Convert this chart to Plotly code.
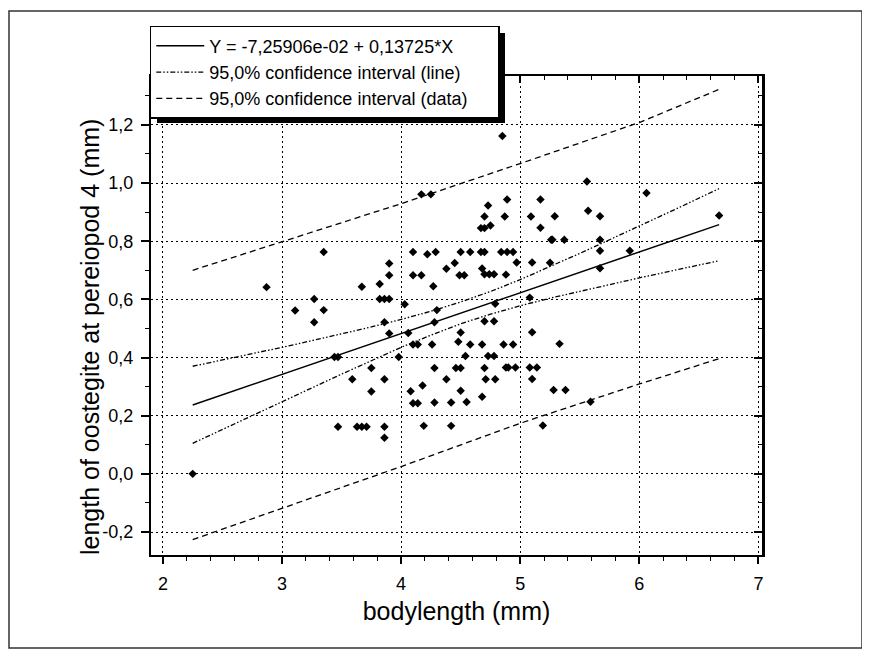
import plotly.graph_objects as go

# ---- data ----
body_length = [2.25, 2.87, 3.11, 3.27, 3.27, 3.35, 3.35, 3.44, 3.47, 3.47,
               3.59, 3.63, 3.67, 3.71, 3.67, 3.75, 3.75, 3.82, 3.82, 3.86,
               3.90, 3.86, 3.86, 3.86, 3.86, 3.90, 3.90, 3.90, 3.98, 4.03,
               4.06, 4.08, 4.10, 4.10, 4.10, 4.14, 4.10, 4.14, 4.17, 4.25,
               4.17, 4.18, 4.19, 4.22, 4.26, 4.27, 4.28, 4.28, 4.28, 4.29,
               4.30, 4.38, 4.38, 4.42, 4.42, 4.45, 4.46, 4.50, 4.48, 4.50,
               4.49, 4.53, 4.50, 4.50, 4.54, 4.55, 4.58, 4.58, 4.67, 4.70,
               4.67, 4.70, 4.68, 4.68, 4.68, 4.70, 4.70, 4.74, 4.78, 4.70,
               4.70, 4.71, 4.73, 4.73, 4.78, 4.75, 4.78, 4.79, 4.79, 4.85,
               4.86, 4.84, 4.87, 4.88, 4.89, 4.88, 4.89, 4.94, 4.90, 4.94,
               4.96, 4.97, 5.08, 5.09, 5.10, 5.08, 5.10, 5.10, 5.14, 5.17,
               5.17, 5.19, 5.25, 5.26, 5.27, 5.29, 5.28, 5.33, 5.37, 5.38,
               5.56, 5.57, 5.59, 5.67, 5.67, 5.67, 5.67, 5.92, 6.06, 6.67]
oostegite = [0.000, 0.642, 0.562, 0.601, 0.521, 0.763, 0.563, 0.402, 0.402, 0.162,
             0.325, 0.162, 0.162, 0.162, 0.643, 0.283, 0.364, 0.653, 0.601, 0.601,
             0.601, 0.521, 0.325, 0.162, 0.124, 0.723, 0.683, 0.483, 0.402, 0.583,
             0.484, 0.284, 0.763, 0.683, 0.445, 0.445, 0.243, 0.243, 0.961, 0.961,
             0.683, 0.304, 0.165, 0.755, 0.445, 0.645, 0.521, 0.364, 0.245, 0.763,
             0.563, 0.705, 0.325, 0.245, 0.165, 0.725, 0.364, 0.364, 0.454, 0.763,
             0.683, 0.683, 0.486, 0.286, 0.405, 0.247, 0.763, 0.445, 0.845, 0.845,
             0.763, 0.763, 0.706, 0.445, 0.265, 0.885, 0.686, 0.686, 0.686, 0.525,
             0.364, 0.325, 0.923, 0.405, 0.405, 0.854, 0.525, 0.585, 0.325, 1.162,
             0.445, 0.763, 0.885, 0.685, 0.943, 0.366, 0.763, 0.763, 0.366, 0.445,
             0.366, 0.727, 0.606, 0.885, 0.727, 0.366, 0.326, 0.487, 0.366, 0.943,
             0.846, 0.166, 0.726, 0.805, 0.805, 0.886, 0.288, 0.447, 0.805, 0.288,
             1.005, 0.905, 0.248, 0.886, 0.805, 0.767, 0.707, 0.767, 0.966, 0.888]

fit_x = [2.25, 6.67]
fit_y = [0.237, 0.857]

ci_line_x = [2.25, 2.5, 2.75, 3.0, 3.25, 3.5, 3.75, 4.0, 4.25, 4.5, 4.75,
             5.0, 5.25, 5.5, 5.75, 6.0, 6.33, 6.67]
ci_line_upper = [0.370, 0.391, 0.413, 0.435, 0.458, 0.481, 0.505, 0.531, 0.559,
                 0.591, 0.627, 0.668, 0.712, 0.758, 0.805, 0.852, 0.915, 0.981]
ci_line_lower = [0.105, 0.153, 0.201, 0.249, 0.296, 0.343, 0.389, 0.435, 0.477,
                 0.516, 0.549, 0.578, 0.604, 0.628, 0.651, 0.674, 0.703, 0.733]

ci_data_x = [2.25, 3.0, 4.0, 5.0, 6.0, 6.67]
ci_data_upper = [0.700, 0.797, 0.929, 1.067, 1.208, 1.322]
ci_data_lower = [-0.226, -0.118, 0.025, 0.174, 0.309, 0.396]

x_tick_vals = [2, 3, 4, 5, 6, 7]
x_tick_text = ["2", "3", "4", "5", "6", "7"]
y_tick_vals = [-0.2, 0.0, 0.2, 0.4, 0.6, 0.8, 1.0, 1.2]
y_tick_text = ["-0,2", "0,0", "0,2", "0,4", "0,6", "0,8", "1,0", "1,2"]

legend_names = ["Y = -7,25906e-02 + 0,13725*X",
                "95,0% confidence interval (line)",
                "95,0% confidence interval (data)"]
x_title = "bodylength (mm)"
y_title = "length of oostegite at pereiopod 4 (mm)"

X_RANGE = [1.9, 7.03]
Y_RANGE = [-0.279, 1.368]
FONT = "Liberation Sans, Arial, sans-serif"
DOTDASH = "5px,2px,1.5px,2px,1.5px,2px"
NBSP = "\u00a0"

fig = go.Figure()

fig.add_trace(go.Scatter(x=fit_x, y=fit_y, mode="lines", name=legend_names[0],
                         line=dict(color="black", width=1.5)))
fig.add_trace(go.Scatter(x=ci_line_x, y=ci_line_upper, mode="lines", name=legend_names[1],
                         legendgroup="cil", line=dict(color="black", width=1.3, dash=DOTDASH)))
fig.add_trace(go.Scatter(x=ci_line_x, y=ci_line_lower, mode="lines", name=legend_names[1],
                         legendgroup="cil", showlegend=False,
                         line=dict(color="black", width=1.3, dash=DOTDASH)))
fig.add_trace(go.Scatter(x=ci_data_x, y=ci_data_upper, mode="lines",
                         name=legend_names[2] + NBSP * 5,
                         legendgroup="cid", line=dict(color="black", width=1.3, dash="6px,4px")))
fig.add_trace(go.Scatter(x=ci_data_x, y=ci_data_lower, mode="lines", name=legend_names[2],
                         legendgroup="cid", showlegend=False,
                         line=dict(color="black", width=1.3, dash="6px,4px")))
fig.add_trace(go.Scatter(x=body_length, y=oostegite, mode="markers", showlegend=False,
                         marker=dict(symbol="diamond", size=6.5, color="black",
                                     line=dict(width=0))))
# carrier for the mirrored top/right axes with inward ticks
fig.add_trace(go.Scatter(x=[None], y=[None], xaxis="x2", yaxis="y2",
                         showlegend=False, hoverinfo="skip"))

grid = dict(showgrid=True, gridcolor="black", gridwidth=1.4, griddash="1.5px,3.5px")

# The page body adds an 8px offset, so the figure is 862x646 and sits at (8,8).
fig.update_layout(
    width=862, height=646,
    margin=dict(l=143, r=108, t=68, b=99, autoexpand=False),
    paper_bgcolor="white", plot_bgcolor="white",
    font=dict(family=FONT, color="black", size=18),
    showlegend=True,
    legend=dict(x=-0.002, y=1.1045, xanchor="left", yanchor="top",
                bgcolor="white", bordercolor="black", borderwidth=1.5,
                font=dict(size=18, family=FONT), itemwidth=48,
                tracegroupgap=0),
    xaxis=dict(range=X_RANGE, tickvals=x_tick_vals, ticktext=x_tick_text,
               showline=True, linecolor="black", linewidth=2,
               ticks="outside", ticklen=7, tickwidth=1.5, tickcolor="black",
               ticklabelstandoff=4,
               minor=dict(dtick=0.2, tick0=2, ticks="outside", ticklen=4,
                          tickwidth=1, tickcolor="black", showgrid=False),
               zeroline=False,
               title=dict(text=x_title, font=dict(size=25), standoff=10),
               **grid),
    yaxis=dict(range=Y_RANGE, tickvals=y_tick_vals, ticktext=y_tick_text,
               showline=True, linecolor="black", linewidth=2,
               ticks="outside", ticklen=8, tickwidth=1.5, tickcolor="black",
               ticklabelstandoff=4,
               minor=dict(dtick=0.1, tick0=0, ticks="outside", ticklen=4,
                          tickwidth=1, tickcolor="black", showgrid=False),
               zeroline=False,
               **grid),
    xaxis2=dict(range=X_RANGE, overlaying="x", side="top", anchor="y2",
                tickvals=x_tick_vals, showticklabels=False,
                showline=True, linecolor="black", linewidth=2,
                ticks="inside", ticklen=7, tickwidth=1.5, tickcolor="black",
                minor=dict(dtick=0.2, tick0=2, ticks="inside", ticklen=4,
                           tickwidth=1, tickcolor="black", showgrid=False),
                showgrid=False, zeroline=False),
    yaxis2=dict(range=Y_RANGE, overlaying="y", side="right", anchor="x2",
                tickvals=y_tick_vals, showticklabels=False,
                showline=True, linecolor="black", linewidth=2.5,
                ticks="inside", ticklen=8, tickwidth=1.5, tickcolor="black",
                minor=dict(dtick=0.1, tick0=0, ticks="inside", ticklen=4,
                           tickwidth=1, tickcolor="black", showgrid=False),
                showgrid=False, zeroline=False),
)

# screen-pixel geometry of the plot area (window coordinates)
PLOT_L, PLOT_R, PLOT_T, PLOT_B = 151, 762, 76, 555


def px_x(p):
    return (p - PLOT_L) / (PLOT_R - PLOT_L)


def px_y(p):
    return (PLOT_B - p) / (PLOT_B - PLOT_T)


# y-axis title (placed like the reference, slightly below the plot centre)
fig.add_annotation(text=y_title, xref="paper", yref="paper",
                   x=px_x(90), y=px_y(337), xanchor="center", yanchor="middle",
                   textangle=-90, showarrow=False, font=dict(size=25))
# legend drop shadow
fig.add_shape(type="rect", xref="paper", yref="paper", layer="above",
              x0=px_x(157), x1=px_x(505), y0=px_y(123), y1=px_y(33),
              fillcolor="black", line=dict(width=0))
# outer frame of the figure
fig.add_shape(type="rect", xref="paper", yref="paper", layer="below",
              x0=px_x(9), x1=px_x(862), y0=px_y(648), y1=px_y(11),
              fillcolor="rgba(0,0,0,0)", line=dict(color="#333", width=1.5))

fig.write_html("out.html")
